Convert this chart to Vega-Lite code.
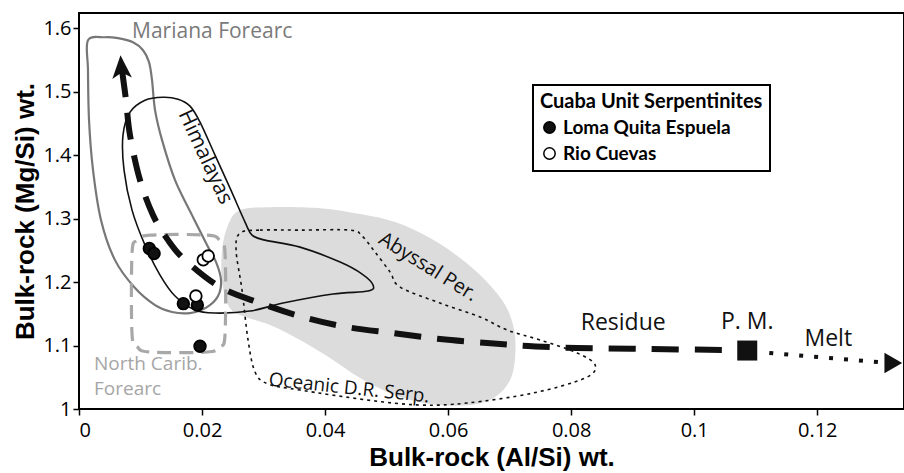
{
  "$schema": "https://vega.github.io/schema/vega-lite/v6.json",
  "width": 825,
  "height": 396,
  "autosize": {"type": "none"},
  "padding": {"left": 79, "top": 13, "right": 0, "bottom": 64},
  "background": "white",
  "config": {
    "view": {"stroke": "black", "strokeWidth": 2},
    "axis": {"grid": false, "domain": false, "labelFont": "Open Sans", "labelFontSize": 20, "labelColor": "black", "tickColor": "black", "tickSize": 6, "tickWidth": 1.5, "titleFont": "Liberation Sans", "titleFontWeight": "bold", "titleFontSize": 26, "titleColor": "black"},
    "legend": {"strokeColor": "black", "strokeWidth": 2, "padding": 7, "titleFont": "Lato", "titleFontWeight": "bold", "titleFontSize": 20, "titleColor": "black", "titleLimit": 500, "labelFont": "Lato", "labelFontWeight": "bold", "labelFontSize": 19, "labelColor": "black", "labelLimit": 500, "symbolType": "circle", "symbolSize": 130, "symbolStrokeColor": "black", "symbolStrokeWidth": 1.5, "rowPadding": 6, "titlePadding": 6}
  },
  "datasets": {
    "abyssal": [
      {"i":1,"x":0.02618,"y":1.3134},{"i":2,"x":0.03106,"y":1.3181},{"i":3,"x":0.03919,"y":1.3165},{"i":4,"x":0.04569,"y":1.3071},{"i":5,"x":0.05138,"y":1.2945},{"i":6,"x":0.05707,"y":1.2693},{"i":7,"x":0.06195,"y":1.2378},{"i":8,"x":0.06602,"y":1.2031},{"i":9,"x":0.06927,"y":1.1638},{"i":10,"x":0.07073,"y":1.1244},{"i":11,"x":0.07089,"y":1.0819},{"i":12,"x":0.07008,"y":1.0457},{"i":13,"x":0.06764,"y":1.0189},{"i":14,"x":0.06358,"y":1.0063},{"i":15,"x":0.05707,"y":1.0079},{"i":16,"x":0.05138,"y":1.0220},{"i":17,"x":0.04569,"y":1.0488},{"i":18,"x":0.04081,"y":1.0803},{"i":19,"x":0.03593,"y":1.1087},{"i":20,"x":0.03106,"y":1.1323},{"i":21,"x":0.02618,"y":1.1480},{"i":22,"x":0.02423,"y":1.1638},{"i":23,"x":0.02325,"y":1.2031},{"i":24,"x":0.02325,"y":1.2504},{"i":25,"x":0.02423,"y":1.2898}
    ],
    "oceanic": [
      {"i":1,"x":0.02618,"y":1.2772},{"i":2,"x":0.02943,"y":1.2819},{"i":3,"x":0.03593,"y":1.2819},{"i":4,"x":0.04407,"y":1.2819},{"i":5,"x":0.04602,"y":1.2724},{"i":6,"x":0.04813,"y":1.2472},{"i":7,"x":0.05057,"y":1.2157},{"i":8,"x":0.05220,"y":1.1921},{"i":9,"x":0.05870,"y":1.1669},{"i":10,"x":0.06520,"y":1.1449},{"i":11,"x":0.06959,"y":1.1244},{"i":12,"x":0.07496,"y":1.1087},{"i":13,"x":0.08098,"y":1.0882},{"i":14,"x":0.08390,"y":1.0693},{"i":15,"x":0.08228,"y":1.0488},{"i":16,"x":0.07382,"y":1.0252},{"i":17,"x":0.06309,"y":1.0094},{"i":18,"x":0.05545,"y":1.0063},{"i":19,"x":0.04683,"y":1.0142},{"i":20,"x":0.03593,"y":1.0299},{"i":21,"x":0.03073,"y":1.0394},{"i":22,"x":0.02862,"y":1.0583},{"i":23,"x":0.02748,"y":1.1087},{"i":24,"x":0.02650,"y":1.1874},{"i":25,"x":0.02553,"y":1.2504}
    ],
    "mariana": [
      {"i":1,"x":0.00146,"y":1.5811},{"i":2,"x":0.00423,"y":1.5858},{"i":3,"x":0.00634,"y":1.5843},{"i":4,"x":0.00878,"y":1.5780},{"i":5,"x":0.01041,"y":1.5654},{"i":6,"x":0.01138,"y":1.5465},{"i":7,"x":0.01187,"y":1.5181},{"i":8,"x":0.01236,"y":1.4709},{"i":9,"x":0.01350,"y":1.4236},{"i":10,"x":0.01561,"y":1.3606},{"i":11,"x":0.01837,"y":1.3055},{"i":12,"x":0.02081,"y":1.2583},{"i":13,"x":0.02228,"y":1.2315},{"i":14,"x":0.02309,"y":1.2031},{"i":15,"x":0.02260,"y":1.1780},{"i":16,"x":0.02081,"y":1.1606},{"i":17,"x":0.01805,"y":1.1512},{"i":18,"x":0.01512,"y":1.1528},{"i":19,"x":0.01236,"y":1.1638},{"i":20,"x":0.00911,"y":1.1906},{"i":21,"x":0.00585,"y":1.2346},{"i":22,"x":0.00358,"y":1.2976},{"i":23,"x":0.00228,"y":1.3764},{"i":24,"x":0.00163,"y":1.4551},{"i":25,"x":0.00146,"y":1.5339}
    ],
    "himalayas": [
      {"i":1,"x":0.01366,"y":1.4913},{"i":2,"x":0.01610,"y":1.4882},{"i":3,"x":0.01805,"y":1.4772},{"i":4,"x":0.01967,"y":1.4520},{"i":5,"x":0.02211,"y":1.4000},{"i":6,"x":0.02455,"y":1.3480},{"i":7,"x":0.02699,"y":1.2945},{"i":8,"x":0.02813,"y":1.2740},{"i":9,"x":0.03024,"y":1.2661},{"i":10,"x":0.03593,"y":1.2551},{"i":11,"x":0.04244,"y":1.2315},{"i":12,"x":0.04602,"y":1.2126},{"i":13,"x":0.04780,"y":1.1953},{"i":14,"x":0.04699,"y":1.1858},{"i":15,"x":0.04130,"y":1.1811},{"i":16,"x":0.03317,"y":1.1669},{"i":17,"x":0.02780,"y":1.1543},{"i":18,"x":0.02211,"y":1.1512},{"i":19,"x":0.01886,"y":1.1559},{"i":20,"x":0.01561,"y":1.1780},{"i":21,"x":0.01317,"y":1.2110},{"i":22,"x":0.01073,"y":1.2583},{"i":23,"x":0.00862,"y":1.3134},{"i":24,"x":0.00732,"y":1.3764},{"i":25,"x":0.00715,"y":1.4315},{"i":26,"x":0.00829,"y":1.4677},{"i":27,"x":0.01073,"y":1.4866}
    ],
    "ncarib": [
      {"i":1,"x":0.01154,"y":1.2740},{"i":2,"x":0.02081,"y":1.2740},{"i":3,"x":0.02288,"y":1.2657},{"i":4,"x":0.02374,"y":1.2457},{"i":5,"x":0.02374,"y":1.1181},{"i":6,"x":0.02288,"y":1.0981},{"i":7,"x":0.02081,"y":1.0898},{"i":8,"x":0.01154,"y":1.0898},{"i":9,"x":0.00947,"y":1.0981},{"i":10,"x":0.00862,"y":1.1181},{"i":11,"x":0.00862,"y":1.2457},{"i":12,"x":0.00947,"y":1.2657}
    ],
    "residue": [
      {"i":1,"x":0.00699,"y":1.5339},{"i":2,"x":0.00764,"y":1.4866},{"i":3,"x":0.00829,"y":1.4315},{"i":4,"x":0.00992,"y":1.3606},{"i":5,"x":0.01203,"y":1.3055},{"i":6,"x":0.01447,"y":1.2661},{"i":7,"x":0.01724,"y":1.2346},{"i":8,"x":0.02293,"y":1.1921},{"i":9,"x":0.02943,"y":1.1669},{"i":10,"x":0.03642,"y":1.1449},{"i":11,"x":0.04358,"y":1.1291},{"i":12,"x":0.05106,"y":1.1197},{"i":13,"x":0.05870,"y":1.1102},{"i":14,"x":0.06634,"y":1.1039},{"i":15,"x":0.07301,"y":1.0992},{"i":16,"x":0.08098,"y":1.0961},{"i":17,"x":0.09285,"y":1.0945},{"i":18,"x":0.10553,"y":1.0929}
    ],
    "melt": [
      {"i":1,"x":0.1122,"y":1.0882},{"i":2,"x":0.1299,"y":1.0740}
    ],
    "samples": [
      {"site":"Loma Quita Espuela","x":0.01143,"y":1.253},
      {"site":"Loma Quita Espuela","x":0.0122,"y":1.245},
      {"site":"Loma Quita Espuela","x":0.01696,"y":1.166},
      {"site":"Loma Quita Espuela","x":0.01924,"y":1.164},
      {"site":"Loma Quita Espuela","x":0.01967,"y":1.099},
      {"site":"Rio Cuevas","x":0.0202,"y":1.235},
      {"site":"Rio Cuevas","x":0.0210,"y":1.241},
      {"site":"Rio Cuevas","x":0.0190,"y":1.178}
    ]
  },
  "encoding": {
    "x": {"field": "x", "type": "quantitative", "scale": {"domain": [0, 0.1341], "nice": false, "zero": false}, "axis": {"title": "Bulk-rock (Al/Si) wt.", "values": [0, 0.02, 0.04, 0.06, 0.08, 0.1, 0.12], "format": "~g", "labelPadding": 5, "titleY": 48, "titleBaseline": "middle"}},
    "y": {"field": "y", "type": "quantitative", "scale": {"domain": [1, 1.624], "nice": false, "zero": false}, "axis": {"title": "Bulk-rock (Mg/Si) wt.", "values": [1, 1.1, 1.2, 1.3, 1.4, 1.5, 1.6], "format": "~g", "labelPadding": 2, "titleX": -54, "titleBaseline": "middle"}}
  },
  "layer": [
    {"data": {"name": "abyssal"}, "mark": {"type": "line", "interpolate": "cardinal-closed", "fill": "#dcdcdc", "stroke": null, "strokeWidth": 0}, "encoding": {"order": {"field": "i"}}},
    {"data": {"name": "oceanic"}, "mark": {"type": "line", "interpolate": "cardinal-closed", "color": "#111", "strokeWidth": 1.6, "strokeDash": [3, 4]}, "encoding": {"order": {"field": "i"}}},
    {"data": {"name": "mariana"}, "mark": {"type": "line", "interpolate": "cardinal-closed", "color": "#777", "strokeWidth": 2.2}, "encoding": {"order": {"field": "i"}}},
    {"data": {"name": "himalayas"}, "mark": {"type": "line", "interpolate": "cardinal-closed", "color": "#111", "strokeWidth": 1.6}, "encoding": {"order": {"field": "i"}}},
    {"data": {"name": "ncarib"}, "mark": {"type": "line", "interpolate": "cardinal-closed", "color": "#a8a8a8", "strokeWidth": 3.2, "strokeDash": [14, 8]}, "encoding": {"order": {"field": "i"}}},
    {"data": {"name": "residue"}, "mark": {"type": "line", "interpolate": "cardinal", "color": "#111", "strokeWidth": 6, "strokeDash": [27, 16]}, "encoding": {"order": {"field": "i"}}},
    {"data": {"name": "melt"}, "mark": {"type": "line", "color": "#111", "strokeWidth": 4, "strokeDash": [4, 11]}, "encoding": {"order": {"field": "i"}}},
    {"data": {"values": [{"x": 0.00691, "y": 1.5348}]}, "mark": {"type": "point", "shape": "M0,-1L0.68,0.6L0,0.2L-0.68,0.6Z", "size": 830, "filled": true, "color": "#111", "opacity": 1, "angle": -4}},
    {"data": {"values": [{"x": 0.13236, "y": 1.0724}]}, "mark": {"type": "point", "shape": "triangle-right", "size": 420, "filled": true, "color": "#111", "opacity": 1}},
    {"data": {"values": [{"x": 0.10862, "y": 1.0921}]}, "mark": {"type": "point", "shape": "square", "size": 400, "filled": true, "color": "#111", "opacity": 1}},
    {"data": {"name": "samples"}, "mark": {"type": "point", "shape": "circle", "size": 135, "stroke": "black", "strokeWidth": 1.8, "opacity": 1}, "encoding": {"fill": {"field": "site", "type": "nominal", "scale": {"domain": ["Loma Quita Espuela", "Rio Cuevas"], "range": ["#111111", "white"]}, "legend": {"title": "Cuaba Unit Serpentinites", "orient": "none", "legendX": 454, "legendY": 72}}}},
    {"data": {"values": [{"x": 0.00862, "y": 1.5843, "t": "Mariana Forearc"}]}, "mark": {"type": "text", "font": "Open Sans", "fontSize": 21, "color": "#7a7a7a", "align": "left", "baseline": "alphabetic"}, "encoding": {"text": {"field": "t"}}},
    {"data": {"values": [{"x": 0.00244, "y": 1.0614, "t": "North Carib."}, {"x": 0.00244, "y": 1.0220, "t": "Forearc"}]}, "mark": {"type": "text", "font": "Open Sans", "fontSize": 19, "color": "#a6a6a6", "align": "left", "baseline": "alphabetic"}, "encoding": {"text": {"field": "t"}}},
    {"data": {"values": [{"x": 0.02049, "y": 1.3969, "t": "Himalayas"}]}, "mark": {"type": "text", "font": "Open Sans", "fontSize": 21, "color": "#111", "align": "center", "baseline": "middle", "angle": 65}, "encoding": {"text": {"field": "t"}}},
    {"data": {"values": [{"x": 0.05675, "y": 1.2236, "t": "Abyssal Per."}]}, "mark": {"type": "text", "font": "Open Sans", "fontSize": 20, "color": "#111", "align": "center", "baseline": "middle", "angle": 32}, "encoding": {"text": {"field": "t"}}},
    {"data": {"values": [{"x": 0.0439, "y": 1.0331, "t": "Oceanic D.R. Serp."}]}, "mark": {"type": "text", "font": "Open Sans", "fontSize": 19, "color": "#111", "align": "center", "baseline": "middle", "angle": 6}, "encoding": {"text": {"field": "t"}}},
    {"data": {"values": [{"x": 0.08846, "y": 1.1354, "t": "Residue"}, {"x": 0.10862, "y": 1.137, "t": "P. M."}, {"x": 0.12179, "y": 1.1102, "t": "Melt"}]}, "mark": {"type": "text", "font": "Open Sans", "fontSize": 23, "color": "#111", "align": "center", "baseline": "middle"}, "encoding": {"text": {"field": "t"}}}
  ]
}
